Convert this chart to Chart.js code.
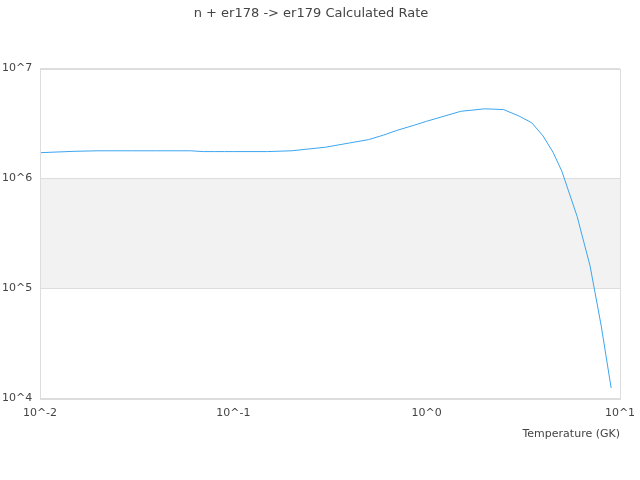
<!DOCTYPE html>
<html>
<head>
<meta charset="utf-8">
<script src="https://cdn.jsdelivr.net/npm/chart.js@4"></script>
<style>
  html, body { margin: 0; padding: 0; background: #fff; }
  #wrap { width: 640px; height: 480px; }
</style>
</head>
<body>
<div id="wrap"><canvas id="rateChart"></canvas></div>
<script>
const temperatures = [0.01, 0.015, 0.02, 0.03, 0.04, 0.05, 0.06, 0.07, 0.08, 0.09, 0.1, 0.15, 0.2, 0.3, 0.4, 0.5, 0.6, 0.7, 0.8, 0.9, 1, 1.5, 2, 2.5, 3, 3.5, 4, 4.5, 5, 6, 7, 8, 9];
const rates = [1.72e6, 1.77e6, 1.79e6, 1.79e6, 1.79e6, 1.79e6, 1.79e6, 1.76e6, 1.76e6, 1.76e6, 1.76e6, 1.76e6, 1.79e6, 1.93e6, 2.11e6, 2.26e6, 2.49e6, 2.74e6, 2.94e6, 3.13e6, 3.32e6, 4.09e6, 4.31e6, 4.24e6, 3.71e6, 3.21e6, 2.44e6, 1.74e6, 1.17e6, 4.54e5, 1.61e5, 4.56e4, 1.25e4];
const xTicks = [0.01, 0.1, 1, 10];
const yTicks = [1e4, 1e5, 1e6, 1e7];
const bandRange = [1e5, 1e6];

const textColor = "#444";
const fontFamily = "'DejaVu Sans', sans-serif";

const powerLabel = (v) => "10^" + Math.round(Math.log10(v));

// grey band between 10^5 and 10^6, plus the frame around the plot
const bandPlugin = {
  id: "band",
  beforeDraw(chart) {
    const { ctx, chartArea, scales } = chart;
    const top = scales.y.getPixelForValue(bandRange[1]);
    const bottom = scales.y.getPixelForValue(bandRange[0]);
    ctx.save();
    ctx.fillStyle = "#f2f2f2";
    ctx.fillRect(chartArea.left, top, chartArea.right - chartArea.left, bottom - top);
    ctx.restore();
  },
  afterDraw(chart) {
    const { ctx, chartArea } = chart;
    ctx.save();
    ctx.strokeStyle = "#dddddd";
    ctx.lineWidth = 1;
    ctx.strokeRect(Math.round(chartArea.left) + 0.5, Math.round(chartArea.top) + 0.5,
      Math.round(chartArea.right - chartArea.left), Math.round(chartArea.bottom - chartArea.top));
    ctx.restore();
  },
};

document.addEventListener("DOMContentLoaded", () => {
  const ctx = document.getElementById("rateChart").getContext("2d");

  new Chart(ctx, {
    type: "line",
    data: {
      datasets: [
        {
          label: "Rate",
          data: temperatures.map((t, i) => ({ x: t, y: rates[i] })),
          borderColor: "rgb(60, 165, 240)",
          borderWidth: 1,
          pointRadius: 0,
          fill: false,
          tension: 0,
        },
      ],
    },
    options: {
      responsive: true,
      maintainAspectRatio: false,
      animation: false,
      layout: { padding: { left: 2, right: 20, top: 0, bottom: 39 } },
      plugins: {
        legend: { display: false },
        tooltip: { enabled: false },
        title: {
          display: true,
          text: "n + er178 -> er179 Calculated Rate",
          color: textColor,
          font: { family: fontFamily, size: 13, weight: "normal" },
          padding: { top: 6, bottom: 47 },
        },
      },
      scales: {
        x: {
          type: "logarithmic",
          min: 0.01,
          max: 10,
          afterBuildTicks: (scale) => {
            scale.ticks = xTicks.map((v) => ({ value: v }));
          },
          afterFit: (scale) => {
            // let the layout padding decide the plot edges
            scale.paddingLeft = 0;
            scale.paddingRight = 0;
          },
          grid: { display: false, drawTicks: false },
          border: { display: false },
          ticks: {
            color: textColor,
            font: { family: fontFamily, size: 11 },
            padding: 8,
            maxRotation: 0,
            autoSkip: false,
            callback: (v) => powerLabel(v),
          },
          title: {
            display: true,
            text: "Temperature (GK)",
            align: "end",
            color: textColor,
            font: { family: fontFamily, size: 11 },
            padding: { top: 0, bottom: 0 },
          },
        },
        y: {
          type: "logarithmic",
          min: 1e4,
          max: 1e7,
          afterBuildTicks: (scale) => {
            scale.ticks = yTicks.map((v) => ({ value: v }));
          },
          afterFit: (scale) => {
            scale.width = 38;
          },
          grid: { color: "#dddddd", drawTicks: false },
          border: { display: false },
          ticks: {
            color: textColor,
            font: { family: fontFamily, size: 11 },
            crossAlign: "far",
            padding: 8,
            autoSkip: false,
            callback: (v) => powerLabel(v),
          },
        },
      },
    },
    plugins: [bandPlugin],
  });
});
</script>
</body>
</html>
